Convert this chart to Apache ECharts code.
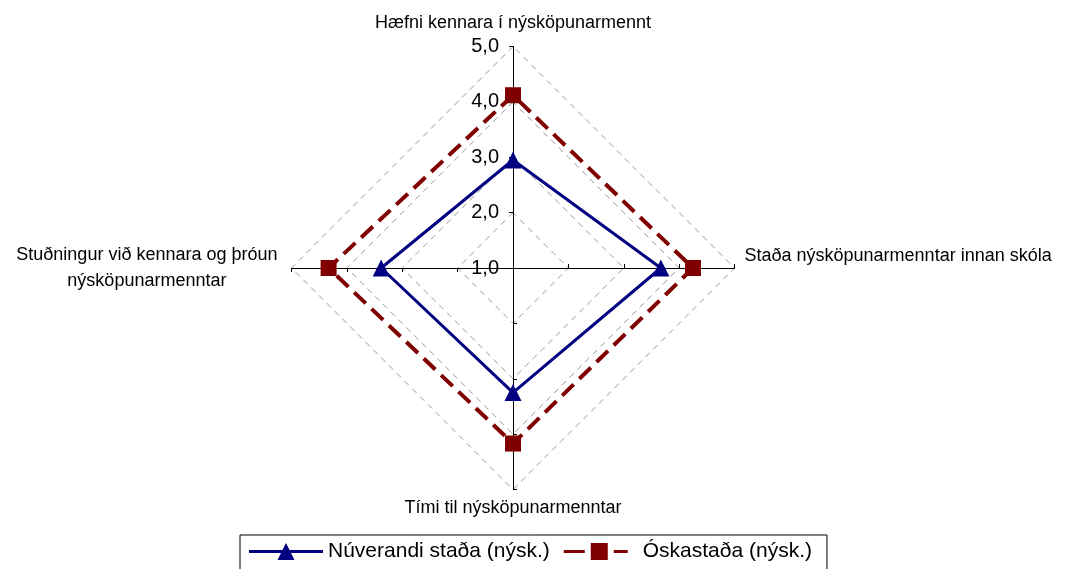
<!DOCTYPE html>
<html>

<head>
  <meta charset="utf-8">
  <title>Nýsköpunarmennt - radar</title>
  <script src="https://cdn.jsdelivr.net/npm/echarts@6/dist/echarts.min.js"></script>
</head>

<body style="margin:0">
  <div id="main" style="width:1068px;height:569px;"></div>
  <script type="text/javascript">
    // ásar: efst, vinstri, neðst, hægri (echarts raðar rangsælis frá toppi)
    var indicators = [
      'Hæfni kennara í nýsköpunarmennt',
      'Stuðningur við kennara og þróun\nnýsköpunarmenntar',
      'Tími til nýsköpunarmenntar',
      'Staða nýsköpunarmenntar innan skóla'
    ]
    var seriesNames = ['Núverandi staða (nýsk.)', 'Óskastaða (nýsk.)']
    var nuverandi = [2.95, 3.38, 3.25, 3.67]
    var oskastada = [4.12, 4.33, 4.17, 4.25]
    var axisMin = 1, axisMax = 5

    var font = 'Liberation Sans, Arial, sans-serif'
    var center = [513, 268]
    var radius = 221.5

    var myChart = echarts.init(document.getElementById('main'))

    var indicatorList = indicators.map(function (n) {
      return { name: n, min: axisMin, max: axisMax }
    })

    myChart.setOption({
      backgroundColor: '#fff',
      animation: false,
      legend: {
        left: 240,
        top: 535,
        padding: [6, 15, 20, 9],
        itemGap: 14,
        itemWidth: 74,
        itemHeight: 17,
        borderColor: '#000',
        borderWidth: 1,
        itemStyle: { borderWidth: 0 },
        textStyle: { fontSize: 21, color: '#000', fontFamily: font },
        data: [
          { name: seriesNames[0], icon: 'path://M0,7 L74,7 L74,10 L0,10 Z M28.5,17 L37,0 L45.5,17 Z' },
          { name: seriesNames[1], icon: 'path://M0,7 L21,7 L21,10 L0,10 Z M27,0 L44,0 L44,17 L27,17 Z M50,7 L64,7 L64,10 L50,10 Z M73.99,8 L74,8 L74,8.01 Z' }
        ]
      },
      // bara fyrir tölurnar 1,0 - 5,0 á efsta ásnum
      polar: { center: center, radius: radius },
      angleAxis: { show: false, min: 0, max: 360 },
      radiusAxis: {
        min: axisMin,
        max: axisMax,
        interval: 1,
        axisLine: { show: false },
        axisTick: { show: false },
        splitLine: { show: false },
        axisLabel: {
          margin: 14,
          fontSize: 20,
          color: '#000',
          fontFamily: font,
          formatter: function (v) { return v.toFixed(1).replace('.', ',') }
        },
        z: 5
      },
      radar: [{
        center: center,
        radius: radius,
        startAngle: 90,
        shape: 'polygon',
        splitNumber: 4,
        indicator: indicatorList,
        nameGap: 10,
        axisName: {
          color: '#000',
          fontSize: 18,
          fontFamily: font,
          formatter: function (name) {
            if (name === indicators[3]) return '{r|' + name + '}'
            if (name === indicators[0]) return '{t|' + name + '}'
            if (name.indexOf('\n') > -1) {
              return name.split('\n').map(function (s) { return '{c|' + s + '}' }).join('\n')
            }
            return name
          },
          rich: {
            r: { fontSize: 18, fontFamily: font, color: '#000', padding: [0, 0, 24, 0] },
            t: { fontSize: 18, fontFamily: font, color: '#000', padding: [0, 0, 4, 0] },
            c: { fontSize: 18, fontFamily: font, color: '#000', align: 'center', lineHeight: 26, padding: [0, 4, 0, 0] }
          }
        },
        axisLine: { lineStyle: { color: '#000', width: 1 } },
        axisTick: { show: true, length: 4, lineStyle: { color: '#000' } },
        splitLine: { lineStyle: { color: '#999', width: 1, type: [6, 5] } },
        splitArea: { show: false }
      }, {
        // hinn helmingurinn af strikunum á ásunum
        center: center,
        radius: radius,
        startAngle: 90,
        shape: 'polygon',
        splitNumber: 4,
        indicator: indicatorList,
        axisName: { show: false },
        axisLine: { show: false },
        axisTick: { show: true, inside: true, length: 4, lineStyle: { color: '#000' } },
        splitLine: { show: false },
        splitArea: { show: false }
      }],
      series: [{
        name: seriesNames[0],
        type: 'radar',
        radarIndex: 0,
        color: '#000080',
        symbol: 'triangle',
        symbolSize: 17,
        lineStyle: { color: '#000080', width: 3 },
        itemStyle: { color: '#000080', borderWidth: 0 },
        data: [{ value: nuverandi, name: seriesNames[0] }],
        z: 4
      }, {
        name: seriesNames[1],
        type: 'radar',
        radarIndex: 0,
        color: '#800000',
        symbol: 'rect',
        symbolSize: 16,
        lineStyle: { color: '#800000', width: 4, type: [16, 8] },
        itemStyle: { color: '#800000', borderWidth: 0 },
        data: [{ value: oskastada, name: seriesNames[1] }],
        z: 3
      }]
    })
  </script>
</body>

</html>
